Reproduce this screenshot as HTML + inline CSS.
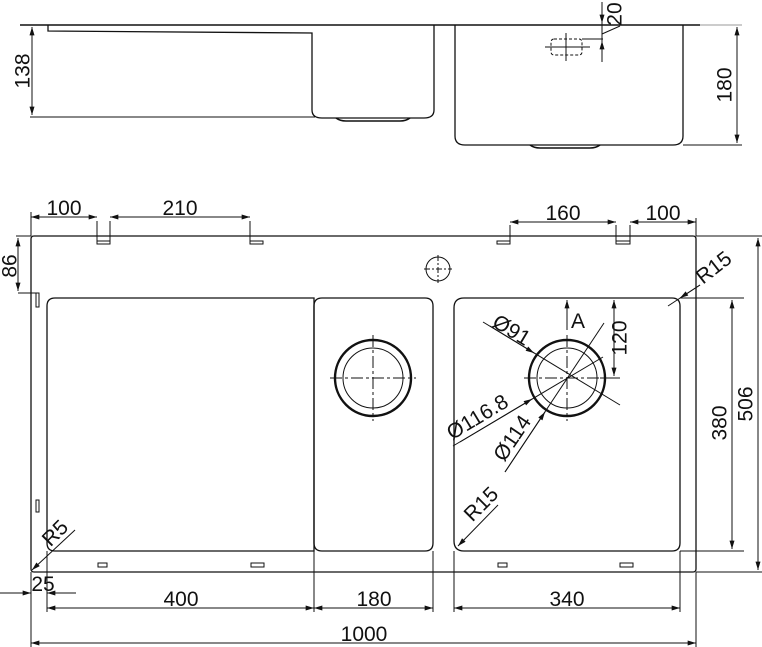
<!DOCTYPE html>
<html><head><meta charset="utf-8"><style>
html,body{margin:0;padding:0;background:#fff}
svg{display:block}
text{font-family:"Liberation Sans",sans-serif;font-size:21px;fill:#111}
</style></head><body>
<svg width="762" height="647" viewBox="0 0 762 647" xmlns="http://www.w3.org/2000/svg">
<defs>
<marker id="a" viewBox="0 0 10 6" refX="10" refY="3" markerWidth="14" markerHeight="5" orient="auto-start-reverse" markerUnits="userSpaceOnUse"><path d="M0,0L10,3L0,6z" fill="#111"/></marker>
</defs>
<g stroke="#111" fill="none" stroke-width="1">
<line x1="20" y1="25" x2="700" y2="25" stroke-width="1.6"/>
<line x1="700" y1="25" x2="742" y2="25" stroke="#999"/>
<path d="M48,25V31L312,33V110Q312,118 322,118H424Q434,118 434,110V25" stroke-width="1.3"/>
<line x1="30" y1="117" x2="315" y2="117"/>
<path d="M336,118Q340,121 346,121H400Q406,121 410,118" stroke-width="1.5"/>
<path d="M455,25V136Q455,145 465,145H673Q683,145 683,136V25" stroke-width="1.3"/>
<line x1="683" y1="145" x2="742" y2="145"/>
<path d="M530,145Q534,148 540,148H590Q596,148 600,145" stroke-width="1.5"/>
<line x1="32" y1="27" x2="32" y2="115" marker-start="url(#a)" marker-end="url(#a)"/>
<line x1="737" y1="27" x2="737" y2="143" marker-start="url(#a)" marker-end="url(#a)"/>
<rect x="551" y="39" width="31" height="16" rx="3" stroke-dasharray="3,2"/>
<line x1="545" y1="47" x2="590" y2="47"/><line x1="566" y1="33" x2="566" y2="61"/>
<line x1="582" y1="39" x2="603" y2="39"/>
<line x1="602" y1="2" x2="602" y2="62"/>
<line x1="602" y1="5" x2="602" y2="23" marker-end="url(#a)"/>
<line x1="602" y1="62" x2="602" y2="41" marker-end="url(#a)"/>
<line x1="602" y1="34" x2="620" y2="26"/>
<path d="M34,236H693Q696,236 696,239V569Q696,572 693,572H34Q31,572 31,569V239Q31,236 34,236Z" stroke-width="1.3"/>
<path d="M55,298H305Q314,298 314,298V551H55Q47,551 47,543V306Q47,298 55,298Z" stroke-width="1.3"/>
<path d="M314,306Q314,298 322,298H425Q433,298 433,306V543Q433,551 425,551H322Q314,551 314,543Z" stroke-width="1.3"/>
<path d="M464,298H672Q680,298 680,306V543Q680,551 672,551H464Q454,551 454,541V308Q454,298 464,298Z" stroke-width="1.3"/>
<path d="M97,221V244M110,221V244" /><rect x="97" y="241" width="13" height="3"/>
<path d="M250,221V241"/><rect x="250" y="241" width="13" height="3"/>
<path d="M510,225V241"/><rect x="497" y="241" width="13" height="3"/>
<path d="M616,225V244M630,225V244"/><rect x="616" y="241" width="14" height="3"/>
<rect x="36" y="293" width="3" height="14"/>
<rect x="36" y="500" width="3" height="12"/>
<rect x="98" y="563" width="9" height="4"/><rect x="251" y="563" width="13" height="4"/>
<rect x="498" y="563" width="9" height="4"/><rect x="620" y="563" width="13" height="4"/>
<circle cx="438" cy="269" r="12"/>
<line x1="424" y1="269" x2="452" y2="269" stroke-dasharray="6,2,2,2"/>
<line x1="438" y1="255" x2="438" y2="283" stroke-dasharray="6,2,2,2"/>
<circle cx="373" cy="378" r="38" stroke-width="2.4"/><circle cx="373" cy="378" r="30"/>
<line x1="330" y1="378" x2="416" y2="378" stroke-dasharray="12,3,3,3"/>
<line x1="373" y1="335" x2="373" y2="421" stroke-dasharray="12,3,3,3"/>
<circle cx="567" cy="378" r="38" stroke-width="2.4"/><circle cx="567" cy="378" r="30"/>
<line x1="524" y1="378" x2="610" y2="378" stroke-dasharray="12,3,3,3"/>
<line x1="567" y1="335" x2="567" y2="421" stroke-dasharray="12,3,3,3"/>
<line x1="567" y1="330" x2="567" y2="300" marker-end="url(#a)"/>
<line x1="483" y1="322" x2="620" y2="405"/>
<line x1="490" y1="326" x2="534" y2="353" marker-end="url(#a)"/>
<line x1="453" y1="446" x2="603" y2="357"/>
<line x1="460" y1="442" x2="532" y2="399" marker-end="url(#a)"/>
<line x1="505" y1="472" x2="604" y2="323"/>
<line x1="505" y1="472" x2="545" y2="412" marker-end="url(#a)"/>
<line x1="614" y1="300" x2="614" y2="376" marker-start="url(#a)" marker-end="url(#a)"/>
<line x1="600" y1="378" x2="620" y2="378"/>
<line x1="498" y1="505" x2="458" y2="546" marker-end="url(#a)"/>
<line x1="700" y1="285" x2="668" y2="306"/>
<line x1="700" y1="285" x2="680" y2="298" marker-end="url(#a)"/>
<line x1="75" y1="530" x2="32" y2="570" marker-end="url(#a)"/>
<line x1="31" y1="212" x2="31" y2="236"/>
<line x1="31" y1="217" x2="97" y2="217" marker-start="url(#a)" marker-end="url(#a)"/>
<line x1="110" y1="217" x2="250" y2="217" marker-start="url(#a)" marker-end="url(#a)"/>
<line x1="510" y1="222" x2="616" y2="222" marker-start="url(#a)" marker-end="url(#a)"/>
<line x1="630" y1="222" x2="696" y2="222" marker-start="url(#a)" marker-end="url(#a)"/>
<line x1="696" y1="218" x2="696" y2="236"/>
<line x1="16" y1="236" x2="31" y2="236"/><line x1="18" y1="293" x2="36" y2="293"/>
<line x1="18" y1="238" x2="18" y2="291" marker-start="url(#a)" marker-end="url(#a)"/>
<line x1="696" y1="236" x2="762" y2="236"/><line x1="680" y1="298" x2="744" y2="298"/>
<line x1="680" y1="551" x2="744" y2="551"/><line x1="696" y1="572" x2="762" y2="572"/>
<line x1="732" y1="300" x2="732" y2="549" marker-start="url(#a)" marker-end="url(#a)"/>
<line x1="758" y1="238" x2="758" y2="570" marker-start="url(#a)" marker-end="url(#a)"/>
<line x1="31" y1="572" x2="31" y2="647"/><line x1="47" y1="551" x2="47" y2="612"/>
<line x1="314" y1="551" x2="314" y2="612"/><line x1="433" y1="551" x2="433" y2="612"/>
<line x1="454" y1="551" x2="454" y2="612"/><line x1="680" y1="551" x2="680" y2="612"/>
<line x1="696" y1="572" x2="696" y2="647"/>
<line x1="0" y1="593" x2="31" y2="593" marker-end="url(#a)"/>
<line x1="76" y1="593" x2="47" y2="593" marker-end="url(#a)"/>
<line x1="47" y1="608" x2="314" y2="608" marker-start="url(#a)" marker-end="url(#a)"/>
<line x1="314" y1="608" x2="433" y2="608" marker-start="url(#a)" marker-end="url(#a)"/>
<line x1="454" y1="608" x2="680" y2="608" marker-start="url(#a)" marker-end="url(#a)"/>
<line x1="31" y1="643" x2="696" y2="643" marker-start="url(#a)" marker-end="url(#a)"/>
</g>
<g>
<text x="24" y="71" transform="rotate(-90 24 71)" text-anchor="middle" dominant-baseline="middle">138</text>
<text x="726" y="85" transform="rotate(-90 726 85)" text-anchor="middle" dominant-baseline="middle">180</text>
<text x="616" y="14" transform="rotate(-90 616 14)" text-anchor="middle" dominant-baseline="middle" font-size="17">20</text>
<text x="64" y="215" text-anchor="middle">100</text>
<text x="180" y="215" text-anchor="middle">210</text>
<text x="563" y="220" text-anchor="middle">160</text>
<text x="663" y="220" text-anchor="middle">100</text>
<text x="11" y="266" transform="rotate(-90 11 266)" text-anchor="middle" dominant-baseline="middle">86</text>
<text x="718" y="273" transform="rotate(-38 718 273)" text-anchor="middle">R15</text>
<text x="571" y="328" font-family="Liberation Serif" font-size="14">A</text>
<text x="621" y="338" transform="rotate(-90 621 338)" text-anchor="middle" dominant-baseline="middle">120</text>
<text x="508" y="336" transform="rotate(31 508 336)" text-anchor="middle">Ø91</text>
<text x="481" y="423" transform="rotate(-31 481 423)" text-anchor="middle">Ø116.8</text>
<text x="518" y="442" transform="rotate(-56 518 442)" text-anchor="middle">Ø114</text>
<text x="486" y="509" transform="rotate(-45 486 509)" text-anchor="middle">R15</text>
<text x="60" y="538" transform="rotate(-45 60 538)" text-anchor="middle">R5</text>
<text x="721" y="423" transform="rotate(-90 721 423)" text-anchor="middle" dominant-baseline="middle">380</text>
<text x="747" y="404" transform="rotate(-90 747 404)" text-anchor="middle" dominant-baseline="middle">506</text>
<text x="43" y="591" text-anchor="middle">25</text>
<text x="181" y="606" text-anchor="middle">400</text>
<text x="374" y="606" text-anchor="middle">180</text>
<text x="567" y="606" text-anchor="middle">340</text>
<text x="364" y="641" text-anchor="middle">1000</text>
</g>
</svg>
</body></html>
